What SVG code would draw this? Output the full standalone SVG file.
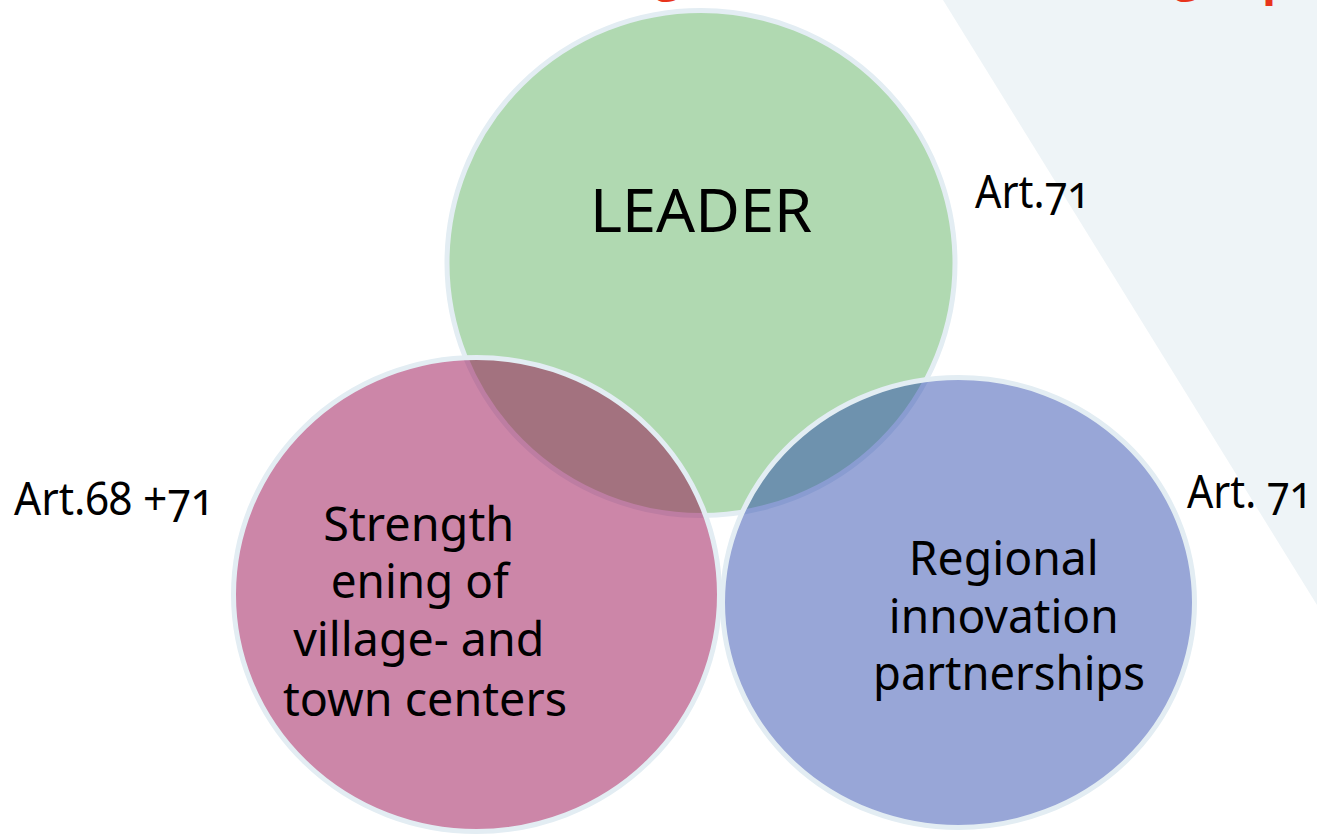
<svg xmlns="http://www.w3.org/2000/svg" width="1317" height="835" viewBox="0 0 1317 835">
<style>
.bg{fill:#eef4f7}
.circ{stroke:#e3edf3;stroke-width:5}
.lbl{font-family:"Noto Sans","Open Sans","DejaVu Sans",sans-serif;fill:#000;text-anchor:middle}
.art{font-family:"Noto Sans","Open Sans","DejaVu Sans",sans-serif;fill:#000;font-size:45px;font-feature-settings:"onum" 1;font-variant-numeric:oldstyle-nums}
.title{font-family:"Open Sans","Noto Sans",sans-serif;font-weight:bold;font-size:46px;fill:#e8341c}
</style>
<rect width="1317" height="835" fill="#ffffff"/>
<polygon class="bg" points="943,0 1317,0 1317,605"/>
<g id="title-fragments">
<text class="title" x="655" y="-9">g</text>
<text class="title" x="1174" y="-9">g</text>
<text class="title" x="1262" y="-5">p</text>
</g>
<g id="leader">
<ellipse class="circ" cx="701" cy="263" rx="254" ry="252.5" fill="#b0d9b1"/>
<text class="lbl" x="701" y="232" font-size="60" textLength="222" lengthAdjust="spacingAndGlyphs">LEADER</text>
</g>
<g id="strengthening">
<ellipse class="circ" cx="476.5" cy="594.5" rx="243" ry="237" fill="#95034a" fill-opacity="0.48"/>
<text class="lbl" font-size="48">
<tspan x="425" y="541" textLength="191" lengthAdjust="spacingAndGlyphs">Strength</tspan>
<tspan x="426" y="598" textLength="178" lengthAdjust="spacingAndGlyphs">ening of</tspan>
<tspan x="425" y="656" textLength="251" lengthAdjust="spacingAndGlyphs">village- and</tspan>
<tspan x="425" y="716" textLength="284" lengthAdjust="spacingAndGlyphs">town centers</tspan>
</text>
</g>
<g id="regional">
<ellipse class="circ" cx="958.5" cy="602.5" rx="236" ry="225" fill="#2442aa" fill-opacity="0.47"/>
<text class="lbl" font-size="48">
<tspan x="1010" y="575" textLength="190" lengthAdjust="spacingAndGlyphs">Regional</tspan>
<tspan x="1010" y="633" textLength="230" lengthAdjust="spacingAndGlyphs">innovation</tspan>
<tspan x="1009" y="690" textLength="272" lengthAdjust="spacingAndGlyphs">partnerships</tspan>
</text>
</g>
<g id="article-labels">
<text class="art" x="975" y="208" textLength="115" lengthAdjust="spacingAndGlyphs">Art.71</text>
<text class="art" x="1187" y="508" textLength="125" lengthAdjust="spacingAndGlyphs">Art. 71</text>
<text class="art" x="14" y="515" textLength="200" lengthAdjust="spacingAndGlyphs">Art.68 +71</text>
</g>
<g id="connectors"></g>
</svg>
